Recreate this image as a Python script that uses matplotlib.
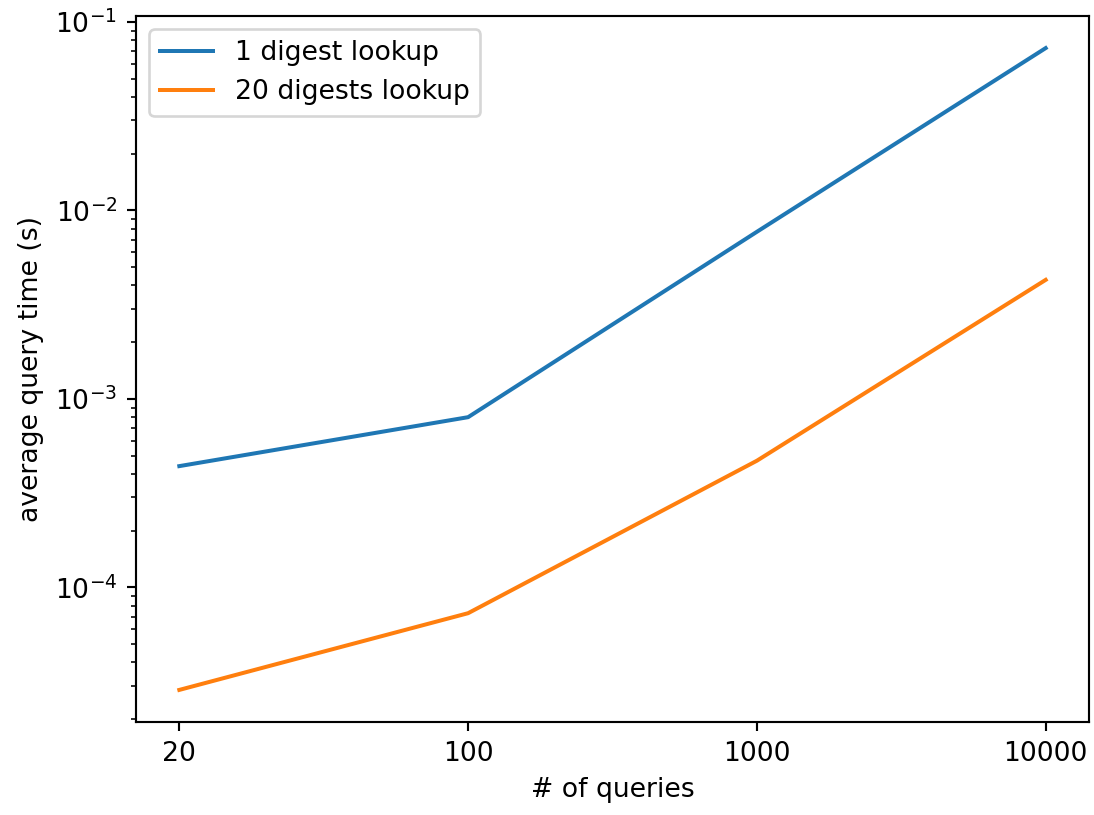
import matplotlib
matplotlib.use("Agg")
import matplotlib.pyplot as plt

queries = ["20", "100", "1000", "10000"]
one_digest = [4.4e-4, 8.0e-4, 7.7e-3, 7.26e-2]
twenty_digests = [2.86e-5, 7.3e-5, 4.7e-4, 4.28e-3]

dpi = 192
fig = plt.figure(figsize=(1094 / dpi, 815 / dpi), dpi=dpi)
ax = fig.add_axes([136 / 1094, 1 - 722 / 815, (1089 - 136) / 1094, (722 - 16) / 815])

x = range(len(queries))
ax.plot(x, one_digest, label="1 digest lookup")
ax.plot(x, twenty_digests, label="20 digests lookup")
ax.set_yscale("log")
ax.set_xticks(list(x))
ax.set_xticklabels(queries)
ax.set_xlabel("# of queries")
ax.set_ylabel("average query time (s)")
ax.legend(loc="upper left")

fig.savefig("out.png", dpi=dpi)
